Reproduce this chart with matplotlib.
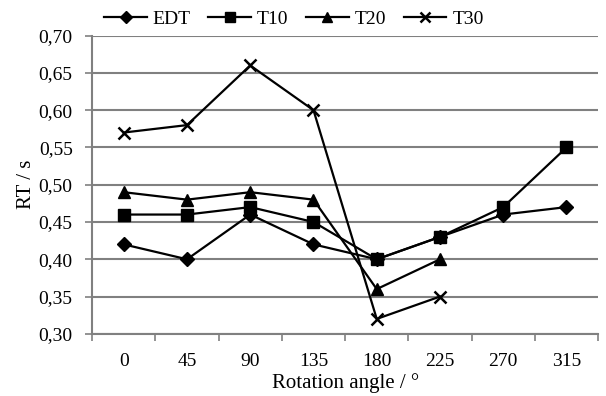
import numpy as np
import matplotlib.pyplot as plt
from matplotlib.ticker import FixedLocator, FuncFormatter

plt.rcParams['font.family'] = ['Liberation Serif', 'DejaVu Serif']

angles = ['0', '45', '90', '135', '180', '225', '270', '315']
edt = [0.42, 0.40, 0.46, 0.42, 0.40, 0.43, 0.46, 0.47]
t10 = [0.46, 0.46, 0.47, 0.45, 0.40, 0.43, 0.47, 0.55]
t20 = [0.49, 0.48, 0.49, 0.48, 0.36, 0.40, np.nan, np.nan]
t30 = [0.57, 0.58, 0.66, 0.60, 0.32, 0.35, np.nan, np.nan]

x = np.arange(len(angles))

fig = plt.figure(figsize=(6.06, 3.96), dpi=100)
ax = fig.add_axes([0.152, 0.157, 0.835, 0.753])

ax.plot(x, edt, color='black', lw=1.6, marker='D', ms=7, label='EDT')
ax.plot(x, t10, color='black', lw=1.6, marker='s', ms=9, label='T10')
ax.plot(x, t20, color='black', lw=1.6, marker='^', ms=9, label='T20')
ax.plot(x, t30, color='black', lw=1.6, marker='x', ms=9, mew=1.8, label='T30')

ax.set_xlim(-0.5, len(angles) - 0.5)
ax.set_ylim(0.30, 0.70)
ax.set_yticks(np.arange(0.30, 0.701, 0.05))
ax.yaxis.set_major_formatter(FuncFormatter(lambda v, p: f'{v:.2f}'.replace('.', ',')))
ax.grid(axis='y', color='#808080', lw=1.5)
ax.set_axisbelow(True)

# category boundaries get the tick marks, centres get the labels
ax.xaxis.set_major_locator(FixedLocator(np.arange(-0.5, len(angles), 1.0)))
ax.xaxis.set_major_formatter(FuncFormatter(lambda v, p: ''))
ax.xaxis.set_minor_locator(FixedLocator(x))
ax.set_xticklabels(angles, minor=True)
ax.tick_params(axis='x', which='minor', length=0, labelsize=14, pad=14)
ax.tick_params(axis='x', which='major', length=5, color='#808080', width=1.2)
ax.tick_params(axis='y', length=5, color='#808080', width=1.2, labelsize=14, pad=9)

for side in ['top', 'right']:
    ax.spines[side].set_visible(False)
for side in ['left', 'bottom']:
    ax.spines[side].set_color('#808080')
    ax.spines[side].set_linewidth(1.5)

ax.set_xlabel('Rotation angle / °', fontsize=15, labelpad=2)
ax.set_ylabel('RT / s', fontsize=15, labelpad=2)

fig.legend(*ax.get_legend_handles_labels(), loc='center', bbox_to_anchor=(0.485, 0.952),
           ncol=4, frameon=False, fontsize=14, handlelength=2.2, columnspacing=0.9,
           handletextpad=0.3, borderaxespad=0, borderpad=0, markerscale=0.85)

fig.savefig('out.png', dpi=100)
